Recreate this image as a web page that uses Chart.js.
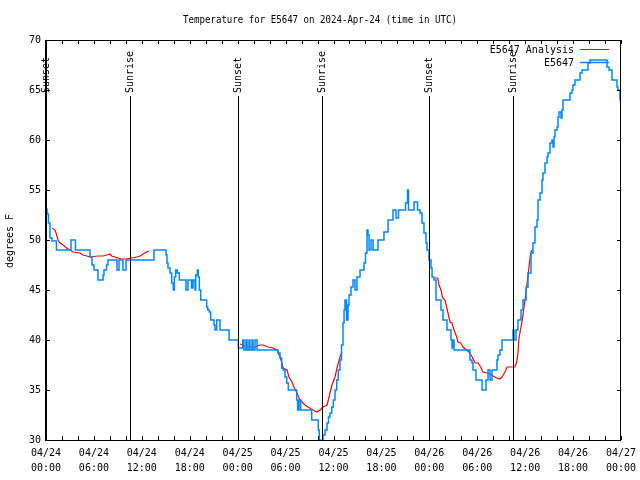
<!DOCTYPE html>
<html>
<head>
<meta charset="utf-8">
<script src="https://cdn.jsdelivr.net/npm/chart.js@4"></script>
<style>
html,body{margin:0;padding:0;background:#fff;}
#wrap{width:640px;height:480px;}
</style>
</head>
<body>
<div id="wrap"><canvas id="c" width="640" height="480"></canvas></div>
<script>
// ---- data (x = hours since 2024-04-24 00:00 UTC) ----
const titleText = 'Temperature for E5647 on 2024-Apr-24 (time in UTC)';
const yAxisLabel = 'degrees F';
const seriesNames = ['E5647 Analysis', 'E5647'];

const dateLabels = ['04/24','04/24','04/24','04/24','04/25','04/25','04/25','04/25','04/26','04/26','04/26','04/26','04/27'];
const timeLabels = ['00:00','06:00','12:00','18:00','00:00','06:00','12:00','18:00','00:00','06:00','12:00','18:00','00:00'];
const yTickValues = [30, 35, 40, 45, 50, 55, 60, 65, 70];

const eventHours = [0, 10.5, 24, 34.5, 48, 58.5];
const eventNames = ['Sunset','Sunrise','Sunset','Sunrise','Sunset','Sunrise'];

const obsHours = [0.00,0.13,0.31,0.50,0.75,1.31,3.13,3.69,5.51,5.76,6.01,6.51,7.14,7.26,7.58,7.76,8.89,9.14,9.64,10.02,
 13.52,15.03,15.15,15.28,15.53,15.74,15.94,16.07,16.24,16.44,16.69,17.53,17.78,18.22,18.41,18.66,18.75,18.95,19.07,19.20,
 19.37,20.12,20.25,20.45,20.62,21.04,21.16,21.37,21.79,22.92,24.08,24.63,24.79,25.04,25.17,25.42,25.54,25.80,25.92,26.17,
 26.42,29.05,29.30,29.51,29.71,29.93,30.14,30.34,31.39,31.51,31.68,31.89,33.27,34.10,34.22,34.40,34.69,34.94,35.19,35.37,
 35.56,35.78,35.98,36.19,36.40,36.60,36.81,37.00,37.19,37.32,37.44,37.63,37.82,37.94,38.19,38.44,38.69,38.94,39.32,39.82,
 40.01,40.20,40.32,40.45,40.70,40.95,41.57,42.32,42.83,43.45,43.83,44.14,45.02,45.27,45.39,46.08,46.52,46.83,47.08,47.33,
 47.58,47.71,47.96,48.21,48.34,48.59,48.84,49.46,49.71,50.21,50.71,50.84,50.96,51.09,53.09,53.34,53.47,53.84,54.60,55.10,
 55.35,55.60,55.85,56.47,56.60,56.85,57.10,58.48,58.60,58.85,59.10,59.48,59.73,60.11,60.36,60.73,60.98,61.23,61.48,61.61,
 61.86,62.11,62.23,62.48,62.74,62.86,63.11,63.36,63.49,63.61,63.74,63.99,64.11,64.24,64.49,64.61,64.74,65.61,65.87,65.99,
 66.24,66.87,67.12,67.87,68.12,70.25,70.50,70.87,71.50,71.62,71.87,72.00];
const obsTemps = [53.1,52.6,51.7,50.2,49.9,49,50,49,48.3,47.5,47,46,46.5,47,47.5,48,47,48,47,48,
 49,48.5,47.7,47.2,46.7,45.7,45,46.3,47,46.7,46,45,46,45.2,46,45,46.5,47,46.3,45,
 44,43.3,43,42.8,42,41.5,41,42,41,40,39.2,40,39,40,39,40,39,40,39,40,
 39,38.7,38.2,37.2,37,36.3,35.7,35,34,33,34,33,32,31,30,29.5,30.5,31,31.7,32.3,
 32.7,33.3,34,35,36,37,38,39.5,41.7,43,44,42,43.5,44.5,45.3,46,45,46.3,47,47.7,
 48.7,51,50.5,49,50,49,50,50.8,52,53,52.2,53,53.7,55,53,53.8,53,52.7,51.7,50.7,
 49.7,49,48,47.2,46.3,46,44,43,42,41,40,39.2,40,39,38,37.7,37,36,35,36,
 37,36,37,38,38.5,39,40,41,40,41,42,43,44,45.3,46.7,48.7,49.7,51.3,52,54,
 54.7,56,56.7,57.7,58.3,58.7,59.7,60,59.3,60.3,61,61.3,62.3,62.8,62.2,63,64,64.7,65,65.5,
 66,66.7,67,67.7,68,67.3,67,66,65.3,65,64,64];

const anaHours = [0.79,1.13,1.34,1.50,1.75,2.13,2.59,3.01,3.38,4.26,4.63,5.10,5.51,6.51,7.14,7.60,8.01,8.23,8.64,9.02,
 9.48,10.02,10.73,11.36,11.77,12.15,12.61,12.90,
 18.00,
 24.29,24.92,25.54,26.17,26.80,27.17,27.80,28.43,28.93,29.30,29.55,29.68,30.18,30.43,30.80,31.05,31.43,31.68,32.06,32.43,
 32.81,33.43,33.93,34.31,34.69,35.19,35.44,35.81,36.19,36.44,36.81,37.06,
 42.00,
 48.71,49.05,49.21,49.46,49.67,49.96,50.17,50.34,50.59,50.84,51.09,51.43,51.59,51.93,52.22,52.68,53.09,53.43,53.72,54.10,
 54.43,54.72,55.19,55.60,55.97,56.44,56.85,57.10,57.48,57.73,58.32,58.73,58.94,59.10,59.23,59.48,59.69,59.98,60.19,60.39,
 60.69,60.86];
const anaTemps = [51.2,51,50.5,50,49.7,49.5,49.2,49,48.8,48.7,48.5,48.4,48.3,48.4,48.4,48.5,48.6,48.4,48.3,48.2,
 48.1,48.1,48.2,48.3,48.4,48.6,48.8,48.9,
 null,
 39.6,39.4,39.3,39.3,39.5,39.5,39.3,39.2,39,38.3,37.7,37.2,37,36.3,35.8,35.3,34.7,34.2,33.8,33.5,
 33.3,33,32.8,33,33.3,33.5,34.3,35.5,36.3,37.2,38.3,38.8,
 null,
 46.2,46.2,45.5,45,44.2,44,43.3,42.7,41.8,41.7,41,40.3,39.8,39.7,39.3,39,38.7,38.2,37.7,37.7,
 37.3,36.8,36.7,36.6,36.4,36.2,36.1,36.3,36.8,37.3,37.3,37.3,37.8,38.7,40.2,41.3,42.3,44,45.3,46.7,
 48.7,49];

const blueColor = 'rgb(0,136,255)';
const redColor = 'rgb(255,0,0)';
const FONT = '"DejaVu Sans Mono", "Liberation Mono", monospace';

const obsData = obsHours.map((h, i) => ({x: h, y: obsTemps[i]}));
const anaData = anaHours.map((h, i) => ({x: h, y: anaTemps[i]}));

Chart.defaults.color = '#000';
Chart.defaults.font.family = FONT;
Chart.defaults.font.size = 10;

const decor = {
  id: 'decor',
  afterDatasetsDraw(chart) {
    const ctx = chart.ctx;
    const a = chart.chartArea;
    const xs = chart.scales.x, ys = chart.scales.y;
    ctx.save();
    ctx.strokeStyle = '#000';
    ctx.fillStyle = '#000';
    ctx.lineWidth = 1;
    ctx.font = '10px ' + FONT;
    // event lines + labels
    eventHours.forEach((h, i) => {
      const px = Math.round(xs.getPixelForValue(h)) + 0.5;
      ctx.beginPath();
      ctx.moveTo(px, 96);
      ctx.lineTo(px, a.bottom);
      ctx.stroke();
      ctx.save();
      ctx.translate(px, 93);
      ctx.rotate(-Math.PI / 2);
      ctx.textAlign = 'left';
      ctx.textBaseline = 'middle';
      ctx.fillText(eventNames[i], 0, 0);
      ctx.restore();
    });
    // border
    ctx.strokeRect(a.left + 0.5, a.top + 0.5, a.right - a.left - 1, a.bottom - a.top);
    ctx.beginPath();
    ctx.moveTo(a.left - 0.5, a.top); ctx.lineTo(a.left - 0.5, a.bottom + 1);
    ctx.stroke();
    // ticks
    ctx.beginPath();
    for (let h = 0; h <= 72; h += 2) {
      const px = Math.round(xs.getPixelForValue(h)) + 0.5;
      ctx.moveTo(px, a.bottom); ctx.lineTo(px, a.bottom - 4);
      ctx.moveTo(px, a.top); ctx.lineTo(px, a.top + 4);
    }
    yTickValues.forEach(v => {
      const py = Math.round(ys.getPixelForValue(v)) + 0.5;
      ctx.moveTo(a.left, py); ctx.lineTo(a.left + 4, py);
      ctx.moveTo(a.right, py); ctx.lineTo(a.right - 4, py);
    });
    ctx.stroke();
    // tick labels
    ctx.textBaseline = 'middle';
    ctx.textAlign = 'right';
    yTickValues.forEach(v => {
      ctx.fillText(String(v), 41, ys.getPixelForValue(v));
    });
    ctx.textAlign = 'center';
    dateLabels.forEach((d, i) => {
      const px = xs.getPixelForValue(i * 6);
      ctx.fillText(d, px, 453);
      ctx.fillText(timeLabels[i], px, 468);
    });
    // y label
    ctx.save();
    ctx.translate(10, 241);
    ctx.rotate(-Math.PI / 2);
    ctx.fillText(yAxisLabel, 0, 0);
    ctx.restore();
    // title (slightly condensed)
    ctx.save();
    ctx.translate(320, 20);
    ctx.scale(0.91, 1);
    ctx.fillText(titleText, 0, 0);
    ctx.restore();
    // legend
    ctx.textAlign = 'right';
    ctx.fillText(seriesNames[0], 574, 50);
    ctx.fillText(seriesNames[1], 574, 63);
    ctx.strokeStyle = redColor;
    ctx.beginPath(); ctx.moveTo(580, 49.5); ctx.lineTo(609, 49.5); ctx.stroke();
    ctx.strokeStyle = blueColor;
    ctx.lineWidth = 1.5;
    ctx.beginPath(); ctx.moveTo(580, 62.5); ctx.lineTo(609, 62.5); ctx.stroke();
    ctx.restore();
  }
};

new Chart(document.getElementById('c'), {
  type: 'line',
  data: {
    datasets: [
      {label: seriesNames[1], data: obsData, borderColor: blueColor, borderWidth: 1.5,
       pointRadius: 0, stepped: true, fill: false},
      {label: seriesNames[0], data: anaData, borderColor: redColor, borderWidth: 1.2,
       pointRadius: 0, tension: 0, spanGaps: false, fill: false}
    ]
  },
  options: {
    responsive: false,
    animation: false,
    layout: {padding: {top: 40, right: 19, left: 0, bottom: 0}},
    plugins: {legend: {display: false}, title: {display: false}, tooltip: {enabled: false}},
    scales: {
      x: {
        type: 'linear', min: 0, max: 72,
        grid: {display: false}, border: {display: false},
        ticks: {display: false, stepSize: 6},
        afterFit: (s) => { s.height = 40; }
      },
      y: {
        min: 30, max: 70,
        grid: {display: false}, border: {display: false},
        ticks: {display: false, stepSize: 5},
        afterFit: (s) => { s.width = 46; }
      }
    }
  },
  plugins: [decor]
});
</script>
</body>
</html>
